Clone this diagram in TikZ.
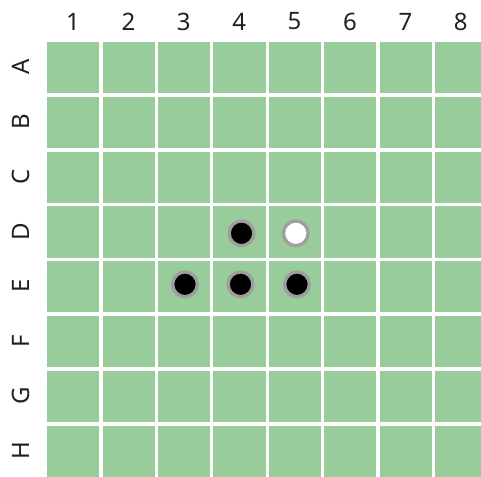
\documentclass[tikz,border=0pt]{standalone}
\usepackage{fontspec}
\setmainfont{Noto Sans}
\definecolor{boardgreen}{RGB}{152,204,155}
\definecolor{stonering}{RGB}{158,158,158}
\definecolor{labelgray}{RGB}{33,33,33}
\tikzset{
  cell/.style={fill=boardgreen,inner sep=0pt,anchor=north west,
    minimum width=52.2pt,minimum height=51.2pt},
  coltext/.style={text=labelgray,font=\fontsize{24}{28}\selectfont},
  rowtext/.style={coltext,rotate=90},
  stone/.style={circle,draw=stonering,line width=3.3pt,inner sep=0pt,minimum size=24.7pt},
  blackstone/.style={stone,fill=black},
  whitestone/.style={stone,fill=white}
}

\begin{document}
\begin{tikzpicture}[x=1pt,y=-1pt]
  \useasboundingbox (0,0) rectangle (481,476);
  \clip (0,0) rectangle (481,476);
  % board
  \foreach \r [count=\i from 0] in {A,B,C,D,E,F,G,H} {
    \node[rowtext] (row\r) at (21,{67+\i*54.8}) {\r};
    \foreach \c in {1,...,8}
      \node[cell] (\r\c) at ({47+(\c-1)*55.4},{41.7+\i*54.8}) {};
  }
  \foreach \c in {1,...,8}
    \node[coltext] (col\c) at ({73+(\c-1)*55.4},21.5) {\c};
  % stones
  \node[blackstone] (stoneD4) at (241.5,233.3) {};
  \node[whitestone] (stoneD5) at (295.8,233.3) {};
  \node[blackstone] (stoneE3) at (185,284.3) {};
  \node[blackstone] (stoneE4) at (240.5,284.3) {};
  \node[blackstone] (stoneE5) at (297,284.3) {};
\end{tikzpicture}
\end{document}
